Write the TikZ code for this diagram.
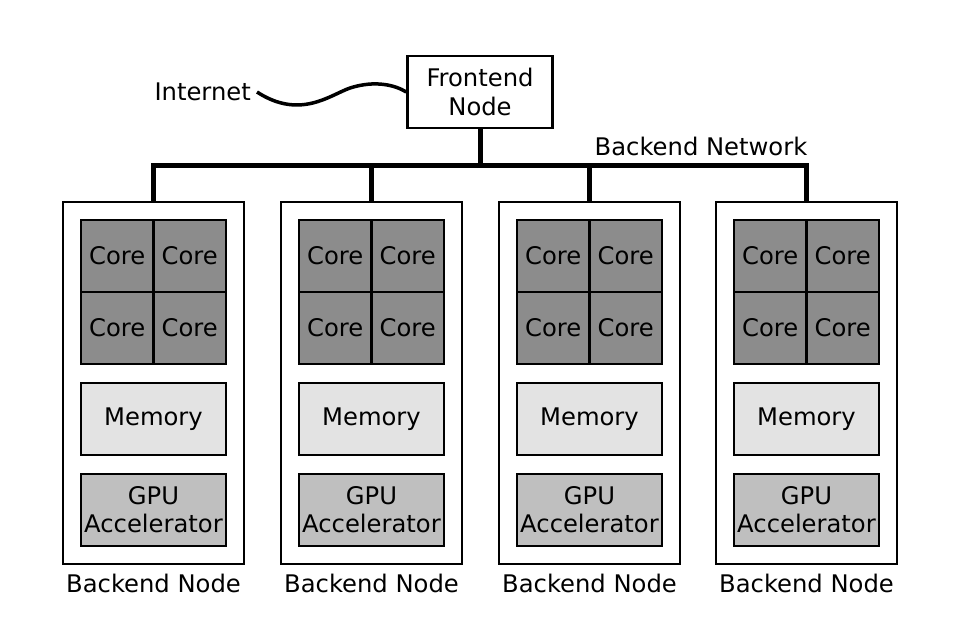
\documentclass[tikz,border=0pt]{standalone}
\usepackage{fontspec}
\setmainfont{DejaVu Sans}
\usepackage{tikz}
\usetikzlibrary{positioning}
\definecolor{coregray}{gray}{0.55}
\definecolor{memgray}{gray}{0.89}
\definecolor{gpugray}{gray}{0.75}
\tikzset{
  lbl/.style={font=\fontsize{13.8}{16}\selectfont},
  box/.style={draw, line width=0.5mm, inner sep=0pt, lbl},
  core/.style={box, fill=coregray, minimum width=1.45cm, minimum height=1.44cm},
  unit/.style={box, minimum width=2.9cm, minimum height=1.44cm, align=center},
  bus/.style={line width=1mm},
}
\begin{document}
\begin{tikzpicture}[x=0.02cm, y=-0.02cm]
    \useasboundingbox (0,0) rectangle (956,626);
    % Frontend
    \node[box, minimum width=2.9cm, minimum height=1.44cm, align=center] (front) at (480,92) {Frontend\\Node};
    \node[lbl, anchor=east] (inet) at (257,92) {Internet};
    \draw[line width=0.7mm] (inet.east) .. controls (300,120) and (330,95) .. (350,88)
        .. controls (375,80) and (395,85) .. (front.west);
    % Backend network
    \coordinate (busmid) at (480,165);
    \draw[bus] (front.south) -- (busmid);
    \node[lbl] (netlabel) at (701,146) {Backend Network};
    % Backend nodes
    \foreach \i/\x in {1/153.5, 2/371.5, 3/589.5, 4/806.5} {
        \node[box, minimum width=3.62cm, minimum height=7.24cm] (back\i) at (\x,383) {};
        \node[core] (c\i a) at (\x-36.25,256) {Core};
        \node[core] (c\i b) at (\x+36.25,256) {Core};
        \node[core] (c\i c) at (\x-36.25,328) {Core};
        \node[core] (c\i d) at (\x+36.25,328) {Core};
        \node[unit, fill=memgray] (mem\i) at (\x,419) {Memory};
        \node[unit, fill=gpugray] (gpu\i) at (\x,510) {GPU\\Accelerator};
        \node[lbl, below=0.05cm of back\i] (lab\i) {Backend Node};
        \coordinate (drop\i) at (\x,165);
        \draw[bus] (drop\i) -- (back\i.north);
    }
    \draw[bus] ([xshift=-0.5mm]drop1) -- ([xshift=0.5mm]drop4);
\end{tikzpicture}
\end{document}
